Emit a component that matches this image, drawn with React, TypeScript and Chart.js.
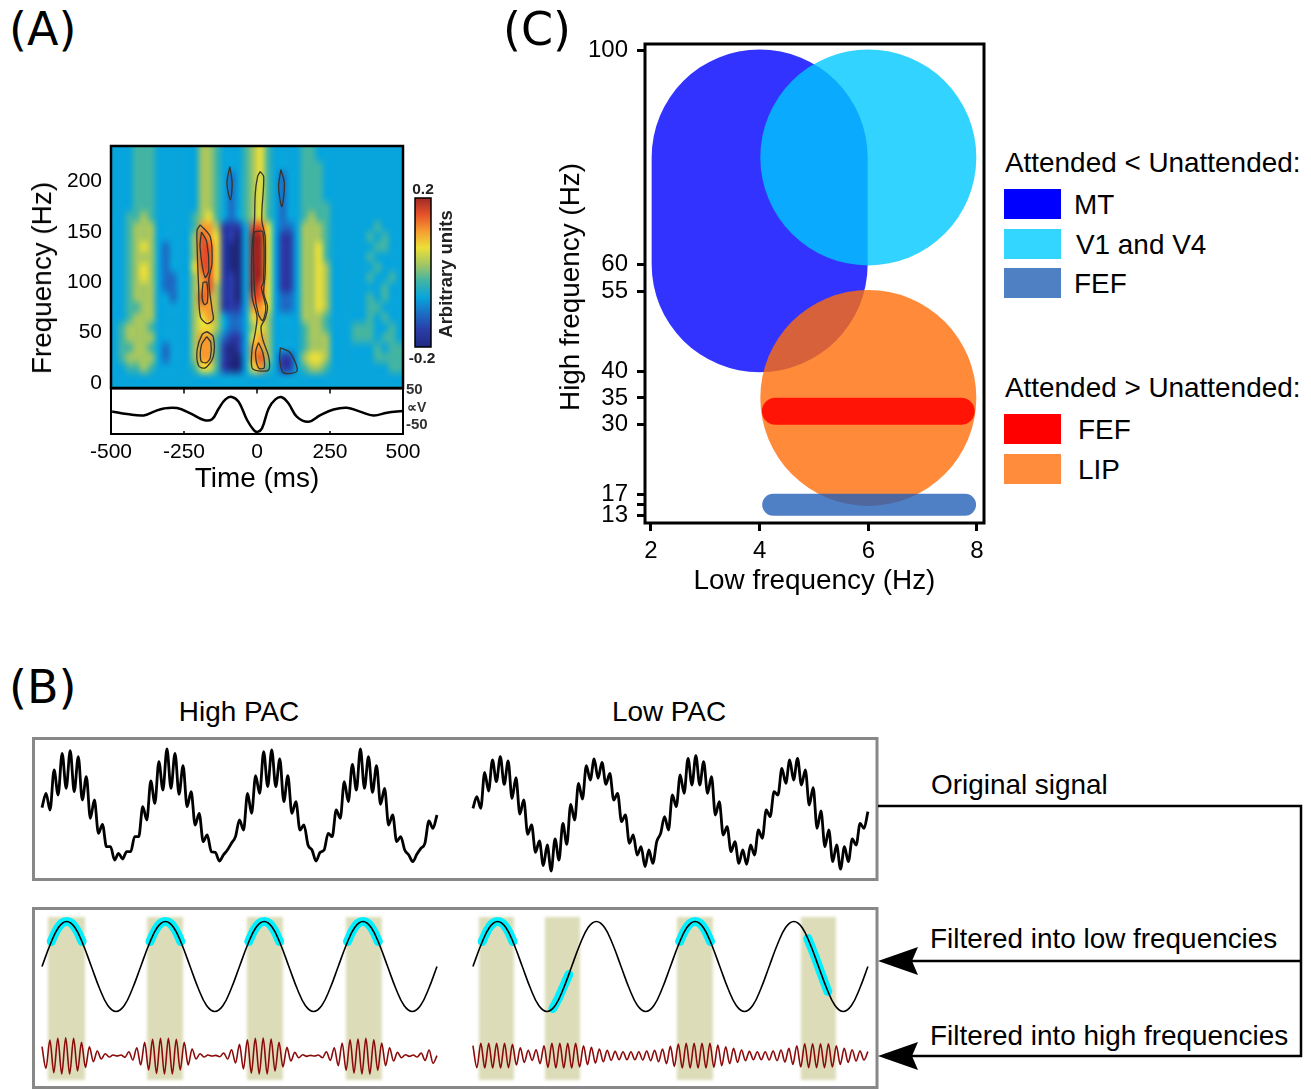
import React, { useEffect, useRef } from "react";
import { Chart, registerables } from "chart.js";

Chart.register(...registerables);

const SANS = '"Liberation Sans", Arial, sans-serif';
const PANEL = '"DejaVu Sans", sans-serif';
const TEXT = 27.9;

// ---------- Panel A ----------
const heatLevelColors = ["#1f2a80", "#2a3ca6", "#1c6cc4", "#08a5dc", "#42b4a4", "#a4c662", "#ecdf38", "#f59c30", "#e6522a", "#a02a26"];
const heatFreqTop = 240;
const heatFreqBottom = 0;
const heatRows = [
  "3334443333 3355433345 6433334433 3333333333",
  "3334443333 3355433345 6433334433 3333333333",
  "3334443333 3355433345 6433334443 3333333333",
  "3334443333 3355432345 6432334443 3333333333",
  "3334443333 3355432345 6432334443 3333333333",
  "3334443333 3355432345 6432334443 3333333333",
  "3334443333 3355432345 6432334444 3333333333",
  "3344543333 3456432345 6432334544 3333333333",
  "3345553333 3477511138 8632235554 3333334333",
  "3345553333 3587611039 9631135554 3333343433",
  "3345653233 3588610039 9631135564 3333334433",
  "3345553233 3588610039 9631135564 3333343333",
  "3345653233 3688610039 9631135565 3333334333",
  "3345653223 3578611039 9631135565 3333343343",
  "3345553223 3578511039 8631135565 3333333433",
  "3345553323 3587511038 8632235565 3333343433",
  "3344553333 3577511137 7632235565 3333344333",
  "3345553333 3567532236 7533335554 3333343433",
  "3455543333 3566532235 6533334554 3334443343",
  "3455553333 3577421136 7533334555 3334443443",
  "3445543233 3577410137 7533334555 3333334344",
  "3455553233 3577410037 8531135665 3333334444",
  "3344543333 3466410036 7431134554 3333333344",
  "3333333333 3333333333 3333333333 3333333333",
];
const freqTicks = [0, 50, 100, 150, 200];
const timeTicks = [-500, -250, 0, 250, 500];
const contourUpperLeftOuter = [[-194, 157], [-160, 145], [-154, 119], [-165, 102], [-154, 73], [-150, 63], [-171, 59], [-194, 66], [-200, 96], [-205, 135], [-205, 152], [-194, 157]];
const contourUpperLeftInnerA = [[-190, 150], [-172, 140], [-165, 112], [-178, 105], [-195, 135], [-190, 150]];
const contourUpperLeftInnerB = [[-185, 100], [-172, 100], [-170, 80], [-180, 78], [-188, 85], [-185, 100]];
const contourLowerLeftOuter = [[-171, 51], [-150, 46], [-150, 26], [-177, 15], [-200, 17], [-205, 33], [-188, 48], [-171, 51]];
const contourLowerLeftInner = [[-172, 46], [-158, 40], [-160, 25], [-175, 20], [-192, 22], [-190, 38], [-172, 46]];
const contourCenterOuter = [[11, 210], [23, 205], [17, 172], [17, 160], [28, 145], [28, 109], [23, 89], [36, 76], [28, 64], [14, 56], [20, 43], [40, 26], [40, 13], [6, 12], [-17, 15], [-17, 33], [-6, 50], [0, 66], [-17, 86], [-17, 135], [-9, 159], [-6, 188], [2, 205], [11, 210]];
const contourCenterInnerA = [[-10, 150], [20, 150], [22, 100], [15, 95], [30, 75], [20, 62], [5, 68], [-8, 90], [-12, 130], [-10, 150]];
const contourCenterInnerB = [[5, 40], [20, 30], [25, 15], [5, 15], [-5, 30], [5, 40]];
const contourBlueLeft = [[-93, 215], [-85, 198], [-91, 182], [-103, 198], [-93, 215]];
const contourBlueRight = [[82, 212], [94, 198], [85, 175], [74, 195], [82, 212]];
const contourBlueLow = [[80, 35], [114, 30], [137, 12], [91, 10], [78, 23], [80, 35]];
const erpTimes = [-496, -445, -388, -353, -319, -274, -228, -182, -154, -131, -108, -86, -63, -34, -11, 2, 17, 40, 63, 85, 108, 137, 177, 217, 262, 308, 353, 399, 445, 499];
const erpValues = [-12, -19, -23, -12, -3, -2, -17, -36, -34, -3, 23, 30, 16, -36, -65, -70, -60, -3, 23, 29, 11, -27, -41, -22, -6, -1, -12, -23, -15, -10];
const erpTicks = [50, -50];

// ---------- Panel C ----------
const lowFreqTicks = [2, 4, 6, 8];
const highFreqTicks = [100, 60, 55, 40, 35, 30, 17, 15, 13];
const highFreqUnlabelled = [15];
const mtLowHz = [4, 4];
const mtHighHz = [80, 60];
const visualLowHz = [6];
const visualHighHz = [80];
const lipLowHz = [6];
const lipHighHz = [35];
const fefRedLowHz = [4.29, 7.71];
const fefRedHighHz = [32.5, 32.5];
const fefBlueLowHz = [4.25, 7.78];
const fefBlueHighHz = [15, 15];

// ---------- Panel B ----------
const highPacSignal = [-8, 35, -15, 105, 30, 155, 50, 163, 40, 145, 15, 85, -40, 15, -85, -58, -125, -125, -165, -145, -162, -140, -140, -95, -95, -5, -45, 72, 5, 130, 45, 168, 50, 155, 32, 118, -5, 40, -60, -25, -110, -90, -140, -142, -168, -150, -135, -115, -95, -45, -75, 35, -25, 88, 35, 160, 55, 165, 55, 138, 10, 88, -25, 10, -75, -60, -120, -135, -168, -142, -135, -85, -95, -15, -40, 70, 10, 122, 45, 168, 50, 145, 38, 118, 2, 50, -60, -30, -110, -95, -135, -150, -170, -148, -130, -115, -48, -70, -30];
const lowPacSignal = [-10, 25, -10, 98, 42, 135, 70, 145, 62, 132, 20, 82, -27, 15, -88, -60, -142, -108, -182, -120, -198, -102, -165, -55, -118, 2, -45, 65, 18, 118, 75, 138, 80, 128, 62, 95, 15, 35, -50, -30, -115, -90, -150, -125, -185, -135, -175, -110, -85, -35, -75, 30, -5, 90, 35, 140, 60, 148, 60, 130, 35, 85, -30, 10, -90, -65, -140, -110, -175, -135, -178, -120, -150, -75, -100, -15, -35, 40, 30, 110, 65, 135, 75, 140, 60, 105, 0, 52, -70, -18, -125, -75, -170, -120, -192, -125, -170, -102, -120, -55, -70, -20];
const lowBandWave = [0, 22, 39, 45, 39, 22, 0, -22, -39, -45, -39, -22, 0, 22, 39, 45, 39, 22, 0, -22, -39, -45, -39, -22, 0, 22, 39, 45, 39, 22, 0, -22, -39, -45, -39, -22, 0, 22, 39, 45, 39, 22, 0, -22, -39, -45, -39, -22, 0];
const highBandHighPac = [27, -38, 47, -51, 52, -55, 54, -55, 52, -46, 40, -35, 27, -18, 14, -10, 6, -4, 2, -1, 2, -5, 12, -13, 24, -28, 40, -43, 49, -53, 52, -55, 52, -55, 49, -43, 40, -28, 20, -10, 6, -4, 2, -1, 1, -3, 8, -10, 18, -22, 34, -40, 48, -52, 52, -55, 53, -55, 50, -46, 40, -34, 25, -16, 10, -6, 3, -2, 1, -1, 2, -6, 12, -14, 24, -30, 38, -44, 48, -52, 50, -55, 52, -55, 48, -44, 38, -30, 24, -16, 10, -6, 3, -2, 2, -4, 8, -14, 17, -23, 0];
const highBandLowPac = [30, -36, 37, -37, 37, -37, 37, -37, 37, -36, 34, -28, 24, -20, 16, -14, 18, -24, 30, -35, 37, -37, 37, -37, 37, -37, 37, -34, 30, -27, 25, -22, 20, -18, 16, -14, 13, -12, 12, -12, 12, -12, 12, -13, 14, -15, 16, -18, 20, -24, 28, -32, 35, -37, 37, -37, 37, -37, 37, -37, 37, -35, 32, -30, 27, -24, 22, -20, 17, -15, 13, -12, 12, -12, 12, -13, 14, -15, 17, -19, 22, -26, 30, -34, 36, -36, 36, -36, 36, -36, 36, -34, 30, -26, 22, -20, 18, -16, 14, -13, 12];
const signalDurationMs = 2000;
const lowPacOffsetMs = 2182;
const bandEdgesHighPac = [[30, 218], [532, 714], [1038, 1220], [1539, 1721]];
const bandEdgesLowPac = [[30, 208], [365, 542], [1033, 1215], [1661, 1838]];
const bandTop = 49.5;
const bandBottom = -113.5;
const arcOffsets = [-78, -52, -26, 0, 26, 52, 78];
const arcValues = [25, 36, 43, 45, 43, 36, 25];
const arcCentresHighPac = [125, 625, 1125, 1625];
const arcCentresLowPac = [125, 1125];
const risingArcTimes = [405, 432, 459, 486];
const risingArcValues = [-42, -32, -20, -8];
const fallingArcTimes = [1696, 1730, 1763, 1797];
const fallingArcValues = [28, 11, -7, -25];

const pairs = (list: number[][]) => list.map(([x, y]) => ({ x, y }));
const series = (values: number[], offset = 0) =>
  values.map((y, i) => ({ x: offset + (i / (values.length - 1)) * signalDurationMs, y }));

const framePlugin = (color: string, width: number) => ({
  id: "frame",
  afterDatasetsDraw(chart: any) {
    const { ctx, chartArea: a } = chart;
    ctx.save();
    ctx.strokeStyle = color;
    ctx.lineWidth = width;
    ctx.strokeRect(a.left, a.top, a.right - a.left, a.bottom - a.top);
    ctx.restore();
  },
});

const heatPlugin = {
  id: "heat",
  beforeDatasetsDraw(chart: any) {
    const { ctx, chartArea: a, scales } = chart;
    const rows = heatRows.map((r) => r.replace(/ /g, ""));
    const off = document.createElement("canvas");
    off.width = rows[0].length;
    off.height = rows.length;
    const o = off.getContext("2d")!;
    rows.forEach((r, j) => {
      [...r].forEach((c, i) => {
        o.fillStyle = heatLevelColors[+c];
        o.fillRect(i, j, 1, 1);
      });
    });
    const x0 = scales.x.getPixelForValue(timeTicks[0]);
    const x1 = scales.x.getPixelForValue(timeTicks[4]);
    const y0 = scales.y.getPixelForValue(heatFreqTop);
    const y1 = scales.y.getPixelForValue(heatFreqBottom);
    ctx.save();
    ctx.beginPath();
    ctx.rect(a.left, a.top, a.right - a.left, a.bottom - a.top);
    ctx.clip();
    ctx.fillStyle = heatLevelColors[3];
    ctx.fillRect(a.left, a.top, a.right - a.left, a.bottom - a.top);
    ctx.imageSmoothingEnabled = true;
    ctx.imageSmoothingQuality = "high";
    ctx.filter = "blur(1px)";
    ctx.drawImage(off, x0, y0, x1 - x0, y1 - y0);
    ctx.restore();
  },
};

const colorbarPlugin = {
  id: "colorbar",
  beforeDatasetsDraw(chart: any) {
    const { ctx, chartArea: a, scales } = chart;
    const g = ctx.createLinearGradient(0, scales.y.getPixelForValue(-0.2), 0, scales.y.getPixelForValue(0.2));
    heatLevelColors.forEach((c, i) => g.addColorStop(i / (heatLevelColors.length - 1), c));
    ctx.save();
    ctx.fillStyle = g;
    ctx.fillRect(a.left, a.top, a.right - a.left, a.bottom - a.top);
    ctx.restore();
  },
};

const innerTicksPlugin = {
  id: "innerTicks",
  afterDatasetsDraw(chart: any) {
    const { ctx, chartArea: a, scales } = chart;
    ctx.save();
    ctx.strokeStyle = "#000";
    ctx.lineWidth = 1.5;
    timeTicks.slice(1, 4).forEach((t) => {
      const x = scales.x.getPixelForValue(t);
      ctx.beginPath();
      ctx.moveTo(x, a.top);
      ctx.lineTo(x, a.top + 5);
      ctx.moveTo(x, a.bottom);
      ctx.lineTo(x, a.bottom - 3);
      ctx.stroke();
    });
    ctx.restore();
  },
};

const bandsPlugin = (high: number[][], low: number[][]) => ({
  id: "bands",
  beforeDatasetsDraw(chart: any) {
    const { ctx, scales } = chart;
    const top = scales.yLow.getPixelForValue(bandTop);
    const bottom = scales.yLow.getPixelForValue(bandBottom);
    ctx.save();
    ctx.fillStyle = "#dcdcb9";
    ctx.filter = "blur(1.5px)";
    [...high, ...low.map(([a, b]) => [a + lowPacOffsetMs, b + lowPacOffsetMs])].forEach(([a, b]) => {
      const x0 = scales.x.getPixelForValue(a);
      ctx.fillRect(x0, top, scales.x.getPixelForValue(b) - x0, bottom - top);
    });
    ctx.restore();
  },
});

const fixedSize = (size: number, horizontal: boolean) => (s: any) => {
  if (horizontal) s.height = size;
  else s.width = size;
};
const setTicks = (vals: number[]) => (s: any) => {
  s.ticks = vals.map((value) => ({ value }));
};
const noAnim = { animation: false, responsive: false, events: [] as string[] };
const noPlugins = { legend: { display: false }, tooltip: { enabled: false } };
const hidden = (min: number, max: number) => ({ type: "linear", display: false, min, max });
const pad = (top: number, right: number, bottom: number, left: number) => ({ autoPadding: false, padding: { top, right, bottom, left } });
const silentGrid = { display: false, drawTicks: false };

const line = (data: any[], color: string, width: number, order: number, extra: any = {}) => ({
  data,
  showLine: true,
  borderColor: color,
  borderWidth: width,
  pointRadius: 0,
  fill: false,
  order,
  ...extra,
});
const contour = (pts: number[][]) => line(pairs(pts), "#35352c", 1.3, 1, { tension: 0.3 });

const chartConfigs: { key: string; left: number; top: number; w: number; h: number; config: any }[] = [
  {
    key: "heat",
    left: 20, top: 100, w: 395, h: 320,
    config: {
      type: "scatter",
      data: {
        datasets: [
          contourUpperLeftOuter, contourUpperLeftInnerA, contourUpperLeftInnerB, contourLowerLeftOuter,
          contourLowerLeftInner, contourCenterOuter, contourCenterInnerA, contourCenterInnerB,
          contourBlueLeft, contourBlueRight, contourBlueLow,
        ].map(contour),
      },
      plugins: [heatPlugin, framePlugin("#000", 2.5)],
      options: {
        ...noAnim,
        layout: pad(46, 12, 32, 0),
        plugins: noPlugins,
        scales: {
          x: hidden(-500, 500),
          y: {
            type: "linear", min: -5, max: 235.4,
            afterFit: fixedSize(91, false),
            afterBuildTicks: setTicks(freqTicks),
            grid: silentGrid, border: { display: false },
            ticks: { color: "#000", font: { family: SANS, size: 21 }, padding: 9, autoSkip: false, callback: (v: number) => String(v) },
          },
        },
      },
    },
  },
  {
    key: "erp",
    left: 20, top: 360, w: 430, h: 140,
    config: {
      type: "scatter",
      data: {
        datasets: [line(erpTimes.map((x, i) => ({ x, y: erpValues[i] })), "#000", 2.5, 1, { tension: 0.4 })],
      },
      plugins: [framePlugin("#000", 2), innerTicksPlugin],
      options: {
        ...noAnim,
        layout: pad(28.5, 0, 0, 91),
        plugins: noPlugins,
        scales: {
          x: {
            type: "linear", min: -500, max: 500,
            afterFit: fixedSize(66, true),
            afterBuildTicks: setTicks(timeTicks),
            grid: silentGrid, border: { display: false },
            ticks: { color: "#000", font: { family: SANS, size: 21 }, padding: 6, maxRotation: 0, autoSkip: false, callback: (v: number) => String(v) },
            title: { display: true, text: "Time (ms)", color: "#000", font: { family: SANS, size: TEXT }, padding: { top: 0, bottom: 4 } },
          },
          y: {
            type: "linear", position: "right", min: -76, max: 54,
            afterFit: fixedSize(47, false),
            afterBuildTicks: setTicks(erpTicks),
            grid: silentGrid, border: { display: false },
            ticks: { color: "#333", font: { family: SANS, size: 15, weight: "bold" }, padding: 3, autoSkip: false, callback: (v: number) => String(v) },
          },
        },
      },
    },
  },
  {
    key: "colorbar",
    left: 410, top: 193, w: 26, h: 160,
    config: {
      type: "scatter",
      data: { datasets: [] },
      plugins: [colorbarPlugin, framePlugin("#000", 1.5)],
      options: {
        ...noAnim,
        layout: pad(5, 5, 6, 5),
        plugins: noPlugins,
        scales: { x: hidden(0, 1), y: hidden(-0.2, 0.2) },
      },
    },
  },
  {
    key: "regions",
    left: 550, top: 4, w: 450, h: 601,
    config: {
      type: "scatter",
      data: {
        datasets: [
          line(mtLowHz.map((x, i) => ({ x, y: mtHighHz[i] })), "rgba(0,0,255,0.8)", 216, 5, { borderCapStyle: "round" }),
          { data: visualLowHz.map((x, i) => ({ x, y: visualHighHz[i] })), pointRadius: 108, backgroundColor: "rgba(0,200,255,0.8)", pointBorderWidth: 0, order: 4 },
          { data: lipLowHz.map((x, i) => ({ x, y: lipHighHz[i] })), pointRadius: 108, backgroundColor: "rgba(255,109,9,0.8)", pointBorderWidth: 0, order: 3 },
          line(fefBlueLowHz.map((x, i) => ({ x, y: fefBlueHighHz[i] })), "rgba(35,95,181,0.8)", 22, 2, { borderCapStyle: "round" }),
          line(fefRedLowHz.map((x, i) => ({ x, y: fefRedHighHz[i] })), "rgb(255,20,5)", 27, 1, { borderCapStyle: "round" }),
        ],
      },
      plugins: [framePlugin("#000", 3)],
      options: {
        ...noAnim,
        layout: pad(40, 16, 0, 0),
        plugins: noPlugins,
        scales: {
          x: {
            type: "linear", min: 1.89, max: 8.129,
            afterFit: fixedSize(82, true),
            afterBuildTicks: setTicks(lowFreqTicks),
            grid: { drawOnChartArea: false, tickLength: 8, tickWidth: 3, tickColor: "#000" },
            border: { display: false },
            ticks: { color: "#000", font: { family: SANS, size: 24 }, padding: 6, maxRotation: 0, autoSkip: false, callback: (v: number) => String(v) },
            title: { display: true, text: "Low frequency (Hz)", color: "#000", font: { family: SANS, size: TEXT }, padding: { top: 0, bottom: 7 } },
          },
          y: {
            type: "linear", min: 11.6, max: 101.22,
            afterFit: fixedSize(95, false),
            afterBuildTicks: setTicks(highFreqTicks),
            grid: { drawOnChartArea: false, tickLength: 8, tickWidth: 3, tickColor: "#000" },
            border: { display: false },
            ticks: { color: "#000", font: { family: SANS, size: 24 }, padding: 9, autoSkip: false, callback: (v: number) => (highFreqUnlabelled.includes(v) ? "" : String(v)) },
          },
        },
      },
    },
  },
  {
    key: "original",
    left: 30, top: 735, w: 850, h: 148,
    config: {
      type: "scatter",
      data: {
        datasets: [
          line(series(highPacSignal), "#000", 2.8, 1, { cubicInterpolationMode: "monotone" }),
          line(series(lowPacSignal, lowPacOffsetMs), "#000", 2.8, 1, { cubicInterpolationMode: "monotone" }),
        ],
      },
      plugins: [framePlugin("#888", 3)],
      options: {
        ...noAnim,
        layout: pad(3.5, 3, 3.5, 3.5),
        plugins: noPlugins,
        scales: { x: hidden(-43, 4228), y: hidden(-223.5, 199.5) },
      },
    },
  },
  {
    key: "filtered",
    left: 30, top: 905, w: 850, h: 184,
    config: {
      type: "scatter",
      data: {
        datasets: [
          ...arcCentresHighPac.map((c) => line(arcOffsets.map((o, i) => ({ x: c + o, y: arcValues[i] })), "#00f0ff", 9, 3, { yAxisID: "yLow", tension: 0.4, borderCapStyle: "round" })),
          ...arcCentresLowPac.map((c) => line(arcOffsets.map((o, i) => ({ x: c + o + lowPacOffsetMs, y: arcValues[i] })), "#00f0ff", 9, 3, { yAxisID: "yLow", tension: 0.4, borderCapStyle: "round" })),
          line(risingArcTimes.map((t, i) => ({ x: t + lowPacOffsetMs, y: risingArcValues[i] })), "#00f0ff", 9, 3, { yAxisID: "yLow", borderCapStyle: "round" }),
          line(fallingArcTimes.map((t, i) => ({ x: t + lowPacOffsetMs, y: fallingArcValues[i] })), "#00f0ff", 9, 3, { yAxisID: "yLow", borderCapStyle: "round" }),
          line(series(lowBandWave), "#000", 1.6, 1, { yAxisID: "yLow", tension: 0.4 }),
          line(series(lowBandWave, lowPacOffsetMs), "#000", 1.6, 1, { yAxisID: "yLow", tension: 0.4 }),
          line(series(highBandHighPac), "#8b0a0a", 1.6, 2, { yAxisID: "yHigh", cubicInterpolationMode: "monotone" }),
          line(series(highBandLowPac, lowPacOffsetMs), "#8b0a0a", 1.6, 2, { yAxisID: "yHigh", cubicInterpolationMode: "monotone" }),
        ],
      },
      plugins: [bandsPlugin(bandEdgesHighPac, bandEdgesLowPac), framePlugin("#888", 3)],
      options: {
        ...noAnim,
        layout: pad(3.5, 3, 1.5, 3.5),
        plugins: noPlugins,
        scales: { x: hidden(-43, 4228), yLow: hidden(-121, 58), yHigh: hidden(-95.4, 441.6) },
      },
    },
  },
];

const ChartCanvas = ({ spec }: { spec: (typeof chartConfigs)[number] }) => {
  const ref = useRef<HTMLCanvasElement>(null);
  useEffect(() => {
    const chart = new Chart(ref.current!, spec.config);
    return () => chart.destroy();
  }, []);
  return (
    <canvas
      ref={ref}
      width={spec.w}
      height={spec.h}
      style={{ position: "absolute", left: spec.left, top: spec.top, width: spec.w, height: spec.h }}
    />
  );
};

type LabelProps = { x: number; y: number; text: string; size?: number; family?: string; bold?: boolean; center?: boolean; rotate?: boolean; color?: string };
const Label = ({ x, y, text, size = TEXT, family = SANS, bold, center, rotate, color = "#000" }: LabelProps) => (
  <div
    style={{
      position: "absolute",
      left: x,
      top: y,
      transform: `translate(${center || rotate ? "-50%" : "0"},-50%)${rotate ? " rotate(-90deg)" : ""}`,
      font: `${bold ? "bold " : ""}${size}px ${family}`,
      lineHeight: 1,
      whiteSpace: "nowrap",
      color,
    }}
  >
    {text}
  </div>
);

const legendRows = [
  { y: 204, h: 30, color: "#0000ff", label: "MT", lx: 1074 },
  { y: 244, h: 30, color: "#33d6ff", label: "V1 and V4", lx: 1076 },
  { y: 283, h: 30, color: "#4f80c4", label: "FEF", lx: 1074 },
  { y: 429, h: 30, color: "#ff0000", label: "FEF", lx: 1078 },
  { y: 469, h: 30, color: "#ff8c3c", label: "LIP", lx: 1078 },
];

export default function App() {
  return (
    <div style={{ position: "absolute", left: 0, top: 0, width: 1311, height: 1089, background: "#fff", overflow: "hidden" }}>
      {chartConfigs.map((c) => (
        <ChartCanvas key={c.key} spec={c} />
      ))}
      <Label x={9} y={29} text="(A)" size={46} family={PANEL} />
      <Label x={503} y={29} text="(C)" size={46} family={PANEL} />
      <Label x={9} y={687} text="(B)" size={46} family={PANEL} />
      <Label x={42} y={278} text="Frequency (Hz)" rotate />
      <Label x={570} y={287} text="High frequency (Hz)" rotate />
      <Label x={423} y={189} text="0.2" size={15.5} bold center color="#222" />
      <Label x={422} y={358} text="-0.2" size={15.5} bold center color="#222" />
      <Label x={446} y={273.5} text="Arbitrary units" size={18.5} bold rotate color="#222" />
      <Label x={407} y={407} text="∝V" size={14} bold color="#333" />
      <Label x={1005} y={163} text="Attended < Unattended:" />
      <Label x={1005} y={388} text="Attended > Unattended:" />
      {legendRows.map((r, i) => (
        <React.Fragment key={i}>
          <div style={{ position: "absolute", left: 1004, top: r.y - r.h / 2, width: 57, height: r.h, background: r.color }} />
          <Label x={r.lx} y={r.y + 1} text={r.label} />
        </React.Fragment>
      ))}
      <Label x={239} y={712} text="High PAC" center />
      <Label x={669} y={712} text="Low PAC" center />
      <Label x={931} y={785} text="Original signal" />
      <Label x={930} y={939} text="Filtered into low frequencies" />
      <Label x={930} y={1036} text="Filtered into high frequencies" />
      <svg width={1311} height={1089} style={{ position: "absolute", left: 0, top: 0, pointerEvents: "none" }}>
        <path d="M878 806H1301V1056H912M1301 961H912" fill="none" stroke="#000" strokeWidth={2.5} />
        <path d="M878 961L918 947L912 961L918 975Z" fill="#000" />
        <path d="M878 1056L918 1042L912 1056L918 1070Z" fill="#000" />
      </svg>
    </div>
  );
}
